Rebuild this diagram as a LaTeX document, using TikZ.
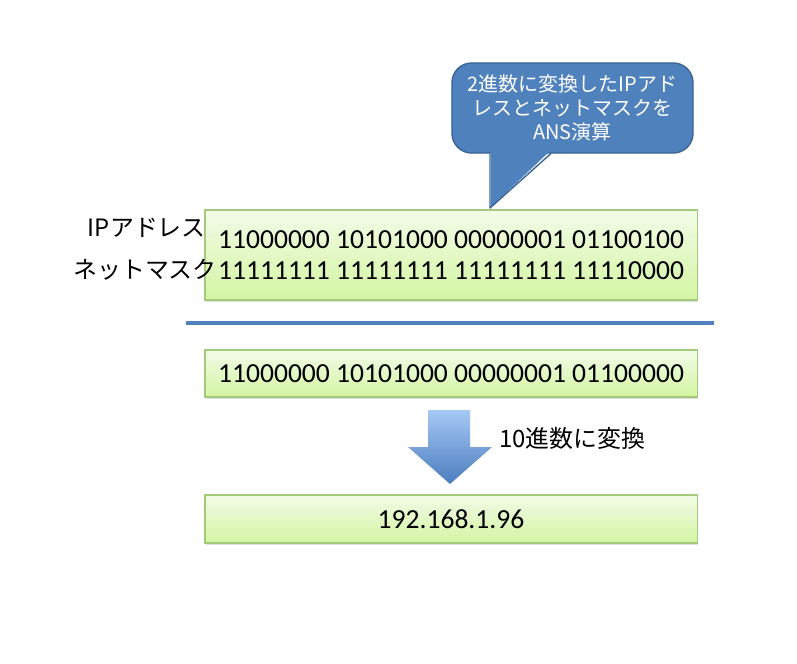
\documentclass[tikz,border=0pt]{standalone}
\usepackage{fontspec}
\setmainfont{Carlito}
\newfontfamily\jp{Noto Sans CJK JP}
\usepackage{xcolor}
\definecolor{boxTop}{HTML}{F3FBE8}
\definecolor{boxBot}{HTML}{D3F5A2}
\definecolor{boxLine}{HTML}{A3C97A}
\definecolor{noteBlue}{HTML}{4F81BD}
\definecolor{noteLine}{HTML}{3A6595}
\definecolor{arrTop}{HTML}{A7C8F5}
\definecolor{arrBot}{HTML}{4A7DBE}
\usetikzlibrary{shadows}

\tikzset{
  bitbox/.style={draw=boxLine, line width=0.8pt, top color=boxTop, bottom color=boxBot,
    minimum width=12.3cm, inner sep=0pt,
    drop shadow={opacity=0.25, shadow xshift=0.6pt, shadow yshift=-1.2pt}},
  bits/.style={font=\fontsize{19.6pt}{22pt}\selectfont, align=left},
  jplabel/.style={font=\jp\fontsize{17pt}{20pt}\selectfont, inner sep=0pt},
}

\begin{document}
\begin{tikzpicture}[x=0.025cm, y=-0.025cm]
  \useasboundingbox (0,0) rectangle (797,664);
  % callout over the first box
  \node[draw=noteLine, line width=1pt, fill=noteBlue, rounded corners=14pt,
        minimum width=6.025cm, minimum height=2.25cm] (note) at (572.5,108) {};
  \fill[noteBlue] (491,151) -- (550,151) -- (491,207) -- cycle;
  \draw[noteLine, line width=1pt, line join=round] (490,153.5) -- (490,208) -- (551,153.5);
  \node[font=\jp\fontsize{14.2pt}{17pt}\selectfont, text=white, align=center] (notetext) at (note.center)
    {2進数に変換したIPアド\\レスとネットマスクを\\ANS演算};
  % address and mask
  \node[bitbox, minimum height=2.25cm, bits] (addr) at (451,255)
    {11000000 10101000 00000001 01100100\\11111111 11111111 11111111 11110000};
  \node[jplabel, anchor=east] (iplabel) at (206,228) {IPアドレス};
  \node[jplabel, anchor=east] (masklabel) at (217,270) {ネットマスク};
  % rule
  \coordinate (ruleL) at (186,323);
  \coordinate (ruleR) at (714,323);
  \draw[noteBlue, line width=2.2pt] (ruleL) -- (ruleR);
  % result of the AND
  \node[bitbox, minimum height=1.175cm, bits] (result) at (451,373.5)
    {11000000 10101000 00000001 01100000};
  % block arrow
  \shade[top color=arrTop, bottom color=arrBot]
    (428,410) -- (470,410) -- (470,447) -- (492,447) -- (450,484) -- (408,447) -- (428,447) -- cycle;
  \node[jplabel, anchor=west] (tolabel) at (499,438) {10進数に変換};
  % decimal
  \node[bitbox, minimum height=1.2cm, bits] (decimal) at (451,519) {192.168.1.96};
\end{tikzpicture}
\end{document}
